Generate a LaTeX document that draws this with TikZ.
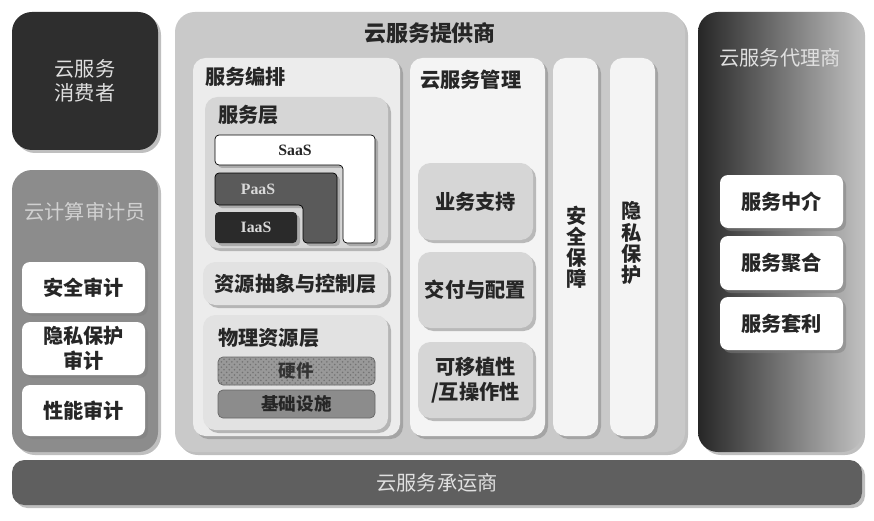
\documentclass[tikz,border=0pt]{standalone}
\usepackage{fontspec}
\setmainfont{Noto Sans CJK SC}
\newfontfamily\latfont{Liberation Serif}
\usetikzlibrary{fit,shadows,patterns}

\definecolor{consumerfill}{HTML}{2E2E2E}
\definecolor{auditfill}{HTML}{8C8C8C}
\definecolor{providerfill}{HTML}{C9C9C9}
\definecolor{orchfill}{HTML}{ECECEC}
\definecolor{layerfill}{HTML}{D6D6D6}
\definecolor{mgmtfill}{HTML}{F4F4F4}
\definecolor{carrierfill}{HTML}{5F5F5F}
\definecolor{paasfill}{HTML}{5A5A5A}
\definecolor{iaasfill}{HTML}{2A2A2A}

\tikzset{
  shade box/.style={drop shadow={shadow xshift=0.06cm, shadow yshift=-0.06cm, opacity=0.5}},
  panel/.style={inner sep=0pt, rounded corners=0.4cm, shade box},
  subpanel/.style={inner sep=0pt, rounded corners=0.25cm, shade box},
  card/.style={inner sep=0pt, rounded corners=0.16cm, fill=white, shade box},
  txt/.style={font=\bfseries\fontsize{11.5pt}{14pt}\selectfont, text=black!85, align=center, inner sep=0pt},
  lighttxt/.style={txt, font=\fontsize{11.5pt}{14pt}\selectfont, text=white!88!black},
  lat/.style={font=\latfont\bfseries\fontsize{9pt}{11pt}\selectfont, inner sep=0pt},
}

\begin{document}
\begin{tikzpicture}[x=0.02cm, y=-0.02cm]
\useasboundingbox[fill=white] (0,0) rectangle (874,520);

\node[panel, fill=consumerfill, fit={(12,12) (158,150)}] (consumer) {};
\node[lighttxt] at (consumer) {云服务\\消费者};

\node[panel, fill=auditfill, fit={(12,170) (158,452)}] (auditor) {};
\node[lighttxt, text=white!82!black] at (85,212) {云计算审计员};
\node[card, fit={(22,262) (145,313)}] (secaudit) {};
\node[txt] at (secaudit) {安全审计};
\node[card, fit={(22,322) (145,375)}] (privaudit) {};
\node[txt] at (privaudit) {隐私保护\\审计};
\node[card, fit={(22,385) (145,436)}] (perfaudit) {};
\node[txt] at (perfaudit) {性能审计};

\node[panel, fill=providerfill, fit={(175,12) (685,452)}] (provider) {};
\node[txt, font=\bfseries\fontsize{12.5pt}{14pt}\selectfont] at (430,33) {云服务提供商};

\node[subpanel, fill=orchfill, fit={(193,58) (400,436)}] (orch) {};
\node[txt, anchor=west] at (205,77) {服务编排};

\node[subpanel, fill=layerfill, fit={(205,97) (388,248)}] (svclayer) {};
\node[txt, anchor=west] at (218,115) {服务层};
\draw[fill=white, rounded corners=0.08cm, shade box] (215,135) -- (375,135) -- (375,243) -- (343,243) -- (343,165) -- (215,165) -- cycle;
\node[lat, text=black!85] (saas) at (295,150) {SaaS};
\draw[fill=paasfill, rounded corners=0.08cm, shade box] (215,173) -- (337,173) -- (337,243) -- (303,243) -- (303,205) -- (215,205) -- cycle;
\node[lat, text=white!85!black] (paas) at (258,189) {PaaS};
\node[card, fill=iaasfill, rounded corners=0.08cm, fit={(215,212) (297,243)}] (iaas) {};
\node[lat, text=white!85!black] at (iaas) {IaaS};

\node[subpanel, fill=layerfill!70!white, fit={(203,262) (388,305)}] (ctrllayer) {};
\node[txt] at (ctrllayer) {资源抽象与控制层};

\node[subpanel, fill=layerfill!70!white, fit={(203,315) (388,430)}] (physlayer) {};
\node[txt, anchor=west] at (218,338) {物理资源层};
\node[inner sep=0pt, rounded corners=0.1cm, draw=black!60, preaction={fill=black!40}, pattern=crosshatch dots, pattern color=black!55, fit={(218,357) (375,385)}] (hardware) {};
\node[txt, text=black!80, font=\bfseries\fontsize{10pt}{12pt}\selectfont] at (hardware) {硬件};
\node[inner sep=0pt, rounded corners=0.1cm, draw=black!60, left color=black!45, middle color=black!80, right color=black!45, fit={(218,390) (375,418)}] (infra) {};
\node[txt, text=black!85, font=\bfseries\fontsize{10pt}{12pt}\selectfont] at (infra) {基础设施};

\node[subpanel, fill=mgmtfill, fit={(410,58) (545,436)}] (mgmt) {};
\node[txt, anchor=west] at (420,80) {云服务管理};
\node[subpanel, fill=layerfill, fit={(418,163) (533,240)}] (support) {};
\node[txt] at (support) {业务支持};
\node[subpanel, fill=layerfill, fit={(418,252) (533,328)}] (deliver) {};
\node[txt] at (deliver) {交付与配置};
\node[subpanel, fill=layerfill, fit={(418,342) (533,418)}] (porta) {};
\node[txt] at (porta) {可移植性\\/互操作性};

\node[subpanel, fill=mgmtfill, fit={(553,58) (598,436)}] (security) {};
\node[txt, font=\bfseries\fontsize{11.5pt}{12pt}\selectfont] at (577,247) {安\\全\\保\\障};
\node[subpanel, fill=mgmtfill, fit={(610,58) (655,436)}] (privacy) {};
\node[txt, font=\bfseries\fontsize{11.5pt}{12pt}\selectfont] at (632,243) {隐\\私\\保\\护};

\node[panel, left color=black!85, right color=black!25, fit={(698,12) (862,452)}] (broker) {};
\node[lighttxt] at (780,58) {云服务代理商};
\node[card, fit={(720,175) (843,228)}] (interm) {};
\node[txt] at (interm) {服务中介};
\node[card, fit={(720,236) (843,290)}] (aggr) {};
\node[txt] at (aggr) {服务聚合};
\node[card, fit={(720,297) (843,350)}] (arbit) {};
\node[txt] at (arbit) {服务套利};

\node[subpanel, fill=carrierfill, fit={(12,460) (862,505)}] (carrier) {};
\node[lighttxt] at (carrier) {云服务承运商};
\end{tikzpicture}
\end{document}
